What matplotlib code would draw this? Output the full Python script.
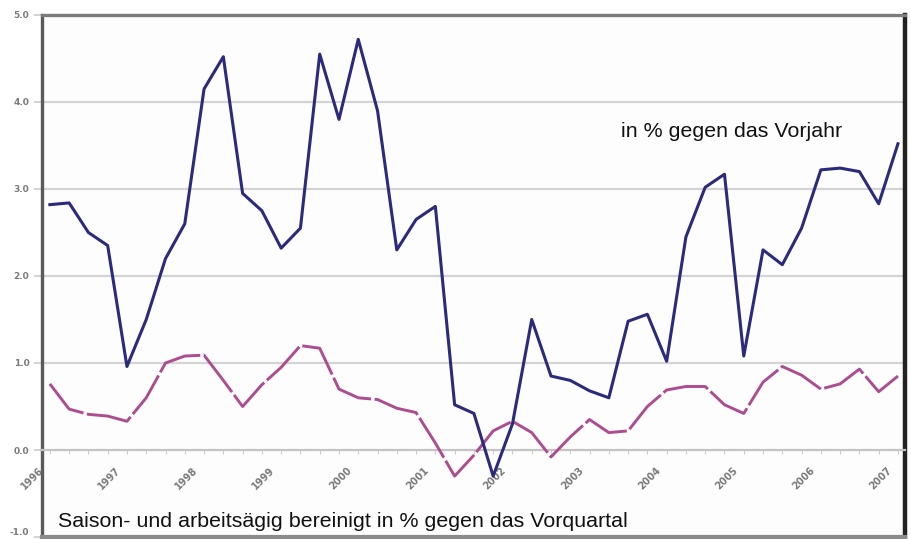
import numpy as np
import matplotlib.pyplot as plt

years = ["1996", "1997", "1998", "1999", "2000", "2001",
         "2002", "2003", "2004", "2005", "2006", "2007"]

# quarterly values, 1996 Q1 .. 2007 Q1
vorjahr = [2.82, 2.84, 2.50, 2.35, 0.96, 1.50, 2.20, 2.60, 4.15, 4.52,
           2.95, 2.75, 2.32, 2.55, 4.55, 3.80, 4.72, 3.90, 2.30, 2.65,
           2.80, 0.52, 0.42, -0.30, 0.30, 1.50, 0.85, 0.80, 0.68, 0.60,
           1.48, 1.56, 1.02, 2.45, 3.02, 3.17, 1.08, 2.30, 2.13, 2.55,
           3.22, 3.24, 3.20, 2.83, 3.52]
vorquartal = [0.76, 0.47, 0.41, 0.39, 0.33, 0.60, 1.00, 1.08, 1.09, 0.80,
              0.50, 0.75, 0.95, 1.20, 1.17, 0.70, 0.60, 0.58, 0.48, 0.43,
              0.08, -0.30, -0.06, 0.22, 0.33, 0.20, -0.08, 0.15, 0.35, 0.20,
              0.22, 0.50, 0.69, 0.73, 0.73, 0.52, 0.42, 0.78, 0.96, 0.86,
              0.70, 0.76, 0.93, 0.67, 0.85]
yticks = [-1.0, 0.0, 1.0, 2.0, 3.0, 4.0, 5.0]

x = np.arange(len(vorjahr))

fig = plt.figure(figsize=(9.12, 5.39), dpi=100)
ax = fig.add_axes([0.046, 0.0037, 0.946, 0.9685])
ax.set_facecolor("#fdfdfd")

for yv in yticks[2:-1]:
    ax.axhline(yv, color="#d4d4d4", lw=1.6, zorder=1)

ax.plot(x, vorquartal, color="#ad4c90", lw=2.1, dashes=(16, 1.2), zorder=3)
ax.plot(x, vorjahr, color="#2b2a7c", lw=2.2, zorder=4)

ax.set_xlim(-0.41, 44.35)
ax.set_ylim(-1.0, 5.0)

# y axis
ax.set_yticks(yticks, labels=[f"{v:.1f}" for v in yticks])
ax.tick_params(axis="y", length=6, width=1.2, color="#cccccc", pad=3,
               labelsize=6.5, labelcolor="#7a7a7a")
for lbl in ax.get_yticklabels():
    lbl.set_fontweight("bold")
ax.get_yticklabels()[0].set_va("bottom")

# x axis sits on the zero line, one tick per quarter
ax.spines["bottom"].set_position(("data", 0))
ax.spines["bottom"].set_color("#c4c4c4")
ax.spines["bottom"].set_linewidth(1.6)
ax.set_xticks(x)
ax.set_xticklabels([])
ax.tick_params(axis="x", length=3, width=0.8, color="#cfcfcf")

for k, yr in enumerate(years):
    ax.text(4 * k - 0.9, -0.32, yr, rotation=45, ha="center", va="center",
            fontsize=7, fontweight="bold", color="#7a7a7a")

ax.spines["left"].set_color("#5a5a5a")
ax.spines["left"].set_linewidth(2.4)
ax.spines["top"].set_color("#7c7c7c")
ax.spines["top"].set_linewidth(2.4)
ax.spines["right"].set_color("#222222")
ax.spines["right"].set_linewidth(3.2)
ax.axhline(-1.0, color="#8a8a8a", lw=3, clip_on=False, zorder=5)

ax.text(0.4, -0.89, "Saison- und arbeitsägig bereinigt in % gegen das Vorquartal",
        fontsize=15.4, family="Liberation Sans", color="#111111", va="baseline")
ax.text(29.65, 3.6, "in % gegen das Vorjahr",
        fontsize=15.4, family="Liberation Sans", color="#111111", va="baseline")

fig.savefig("out.png", dpi=100)
